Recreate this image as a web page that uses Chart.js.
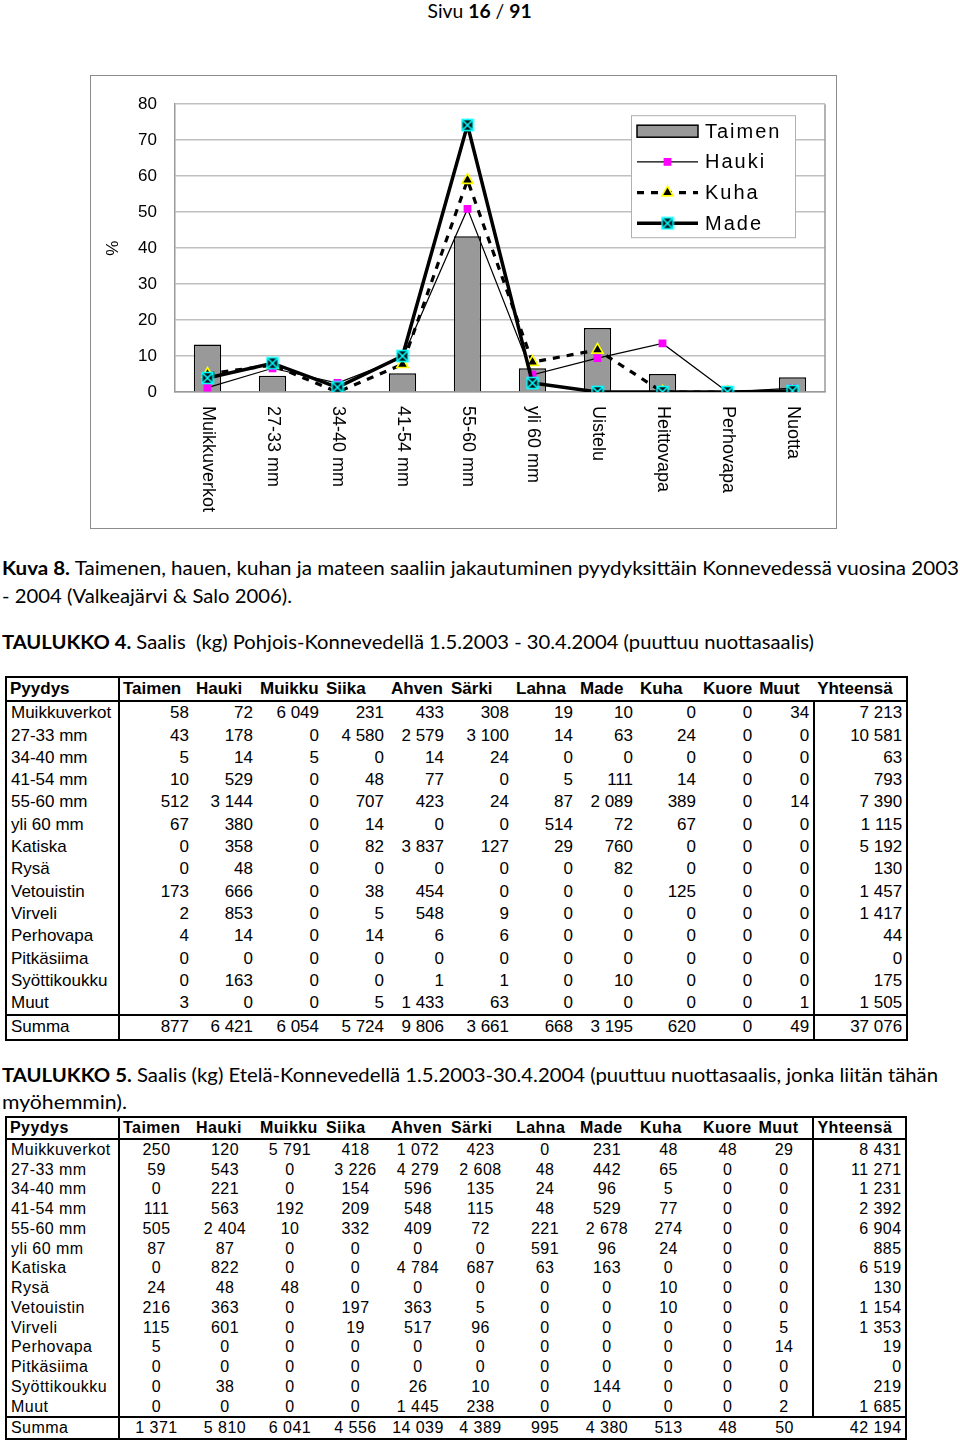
<!DOCTYPE html>
<html>
<head>
<meta charset="utf-8">
<script src="https://cdn.jsdelivr.net/npm/chart.js@4.4.1/dist/chart.umd.min.js"></script>
<style>
  html, body { margin: 0; padding: 0; background: #fff; }
  #page { position: relative; width: 960px; height: 1440px; overflow: hidden; }
  .t { position: absolute; left: 2px; font-family: Lato, "Open Sans", sans-serif; font-size: 19.5px;
       line-height: 1; white-space: nowrap; color: #000; transform-origin: left top; }
  #frame { position: absolute; left: 90px; top: 75px; width: 747px; height: 454px;
           box-sizing: border-box; border: 1px solid #8c8c8c; }
  #chart { display: block; }
  table { position: absolute; left: 5px; border-collapse: collapse; table-layout: fixed;
          font-family: "Liberation Sans", Arial, sans-serif; color: #000; }
  td { padding: 0 4px; white-space: nowrap; overflow: hidden; }
  #tab4 { top: 676px; font-size: 17px; border: 2px solid #000; }
  #tab4 td { height: 22.3px; line-height: 22.3px; text-align: right; }
  #tab5 { top: 1116px; font-size: 16px; letter-spacing: 0.45px; border: 2px solid #000; }
  #tab5 td { height: 19.75px; line-height: 19.75px; text-align: center; }
  td.name { text-align: left !important; }
  tr.head td { font-weight: bold; text-align: left !important; padding-left: 3px; }
  tr.head { border-bottom: 2px solid #000; }
  tr.sum { border-top: 2px solid #000; }
  td.pcol { border-right: 2px solid #000; }
  td.ycol { text-align: right !important; }
</style>
</head>
<body>
<div id="page">
  <div class="t" style="left:0;top:1px;width:960px;text-align:center;"><span data-w="104" style="display:inline-block;transform-origin:center top;">Sivu <b>16</b> / <b>91</b></span></div>

  <div id="frame"><canvas id="chart" width="745" height="452"></canvas></div>

  <div class="t" data-w="957" style="top:558px;"><b>Kuva 8.</b> Taimenen, hauen, kuhan ja mateen saaliin jakautuminen pyydyksittäin Konnevedessä vuosina 2003</div>
  <div class="t" data-w="290" style="top:586px;">- 2004 (Valkeajärvi &amp; Salo 2006).</div>
  <div class="t" data-w="812" style="top:632px;"><b>TAULUKKO 4.</b> Saalis&nbsp; (kg) Pohjois-Konnevedellä 1.5.2003 - 30.4.2004 (puuttuu nuottasaalis)</div>

  <table id="tab4"></table>

  <div class="t" data-w="936" style="top:1065px;"><b>TAULUKKO 5.</b> Saalis (kg) Etelä-Konnevedellä 1.5.2003-30.4.2004 (puuttuu nuottasaalis, jonka liitän tähän</div>
  <div class="t" data-w="125" style="top:1092px;">myöhemmin).</div>

  <table id="tab5"></table>
</div>

<script>
// ---------------------------------------------------------------------------
//  Chart data (percent of catch by gear)
// ---------------------------------------------------------------------------
const categories = ['Muikkuverkot', '27-33 mm', '34-40 mm', '41-54 mm', '55-60 mm',
                    'yli 60 mm', 'Uistelu', 'Heittovapa', 'Perhovapa', 'Nuotta'];
const taimen = [13.2, 4.5, 0.3, 5.2, 43.3, 6.6, 17.8, 5.0, 0.3, 4.1];
const hauki  = [1.2, 6.6, 2.5, 9.5, 50.9, 4.8, 9.4, 13.5, 0, 1.1];
const kuha   = [5.0, 7.5, 0, 7.7, 58.9, 8.3, 11.7, 0, 0, 0];
const made   = [3.9, 8.0, 1.3, 10.0, 74.2, 2.5, 0, 0, 0, 0.3];
const yTicks = [0, 10, 20, 30, 40, 50, 60, 70, 80];

// ---------------------------------------------------------------------------
//  Table data
// ---------------------------------------------------------------------------
const tableHeader = ['Pyydys', 'Taimen', 'Hauki', 'Muikku', 'Siika', 'Ahven', 'Särki',
                     'Lahna', 'Made', 'Kuha', 'Kuore', 'Muut', 'Yhteensä'];
const gears = ['Muikkuverkot', '27-33 mm', '34-40 mm', '41-54 mm', '55-60 mm', 'yli 60 mm',
               'Katiska', 'Rysä', 'Vetouistin', 'Virveli', 'Perhovapa', 'Pitkäsiima',
               'Syöttikoukku', 'Muut', 'Summa'];
const north = [
  ['58', '72', '6 049', '231', '433', '308', '19', '10', '0', '0', '34', '7 213'],
  ['43', '178', '0', '4 580', '2 579', '3 100', '14', '63', '24', '0', '0', '10 581'],
  ['5', '14', '5', '0', '14', '24', '0', '0', '0', '0', '0', '63'],
  ['10', '529', '0', '48', '77', '0', '5', '111', '14', '0', '0', '793'],
  ['512', '3 144', '0', '707', '423', '24', '87', '2 089', '389', '0', '14', '7 390'],
  ['67', '380', '0', '14', '0', '0', '514', '72', '67', '0', '0', '1 115'],
  ['0', '358', '0', '82', '3 837', '127', '29', '760', '0', '0', '0', '5 192'],
  ['0', '48', '0', '0', '0', '0', '0', '82', '0', '0', '0', '130'],
  ['173', '666', '0', '38', '454', '0', '0', '0', '125', '0', '0', '1 457'],
  ['2', '853', '0', '5', '548', '9', '0', '0', '0', '0', '0', '1 417'],
  ['4', '14', '0', '14', '6', '6', '0', '0', '0', '0', '0', '44'],
  ['0', '0', '0', '0', '0', '0', '0', '0', '0', '0', '0', '0'],
  ['0', '163', '0', '0', '1', '1', '0', '10', '0', '0', '0', '175'],
  ['3', '0', '0', '5', '1 433', '63', '0', '0', '0', '0', '1', '1 505'],
  ['877', '6 421', '6 054', '5 724', '9 806', '3 661', '668', '3 195', '620', '0', '49', '37 076']
];
const south = [
  ['250', '120', '5 791', '418', '1 072', '423', '0', '231', '48', '48', '29', '8 431'],
  ['59', '543', '0', '3 226', '4 279', '2 608', '48', '442', '65', '0', '0', '11 271'],
  ['0', '221', '0', '154', '596', '135', '24', '96', '5', '0', '0', '1 231'],
  ['111', '563', '192', '209', '548', '115', '48', '529', '77', '0', '0', '2 392'],
  ['505', '2 404', '10', '332', '409', '72', '221', '2 678', '274', '0', '0', '6 904'],
  ['87', '87', '0', '0', '0', '0', '591', '96', '24', '0', '0', '885'],
  ['0', '822', '0', '0', '4 784', '687', '63', '163', '0', '0', '0', '6 519'],
  ['24', '48', '48', '0', '0', '0', '0', '0', '10', '0', '0', '130'],
  ['216', '363', '0', '197', '363', '5', '0', '0', '10', '0', '0', '1 154'],
  ['115', '601', '0', '19', '517', '96', '0', '0', '0', '0', '5', '1 353'],
  ['5', '0', '0', '0', '0', '0', '0', '0', '0', '0', '14', '19'],
  ['0', '0', '0', '0', '0', '0', '0', '0', '0', '0', '0', '0'],
  ['0', '38', '0', '0', '26', '10', '0', '144', '0', '0', '0', '219'],
  ['0', '0', '0', '0', '1 445', '238', '0', '0', '0', '0', '2', '1 685'],
  ['1 371', '5 810', '6 041', '4 556', '14 039', '4 389', '995', '4 380', '513', '48', '50', '42 194']
];
const colWidths = [113, 74, 64, 66, 65, 60, 65, 64, 60, 63, 55, 58, 93];

// Build a table; yDivider says in which rows the line before Yhteensä is drawn
const buildTable = (id, rows, yDivider) => {
  const table = document.getElementById(id);
  const cg = document.createElement('colgroup');
  colWidths.forEach(w => { const c = document.createElement('col'); c.style.width = w + 'px'; cg.appendChild(c); });
  table.appendChild(cg);
  const addRow = (cells, cls, rowIdx) => {
    const tr = document.createElement('tr');
    if (cls) tr.className = cls;
    cells.forEach((txt, i) => {
      const td = document.createElement('td');
      td.textContent = txt;
      if (i === 0) td.className = 'name pcol';
      if (i === cells.length - 1) {
        td.className = 'ycol';
        if (yDivider(rowIdx)) td.style.borderLeft = '2px solid #000';
      }
      tr.appendChild(td);
    });
    table.appendChild(tr);
  };
  addRow(tableHeader, 'head', -1);
  rows.forEach((r, i) => addRow([gears[i], ...r], i === rows.length - 1 ? 'sum' : '', i));
};
buildTable('tab4', north, i => i >= 0);
buildTable('tab5', south, i => i < south.length - 1);

// Squeeze caption lines to the widths they have on the page
document.querySelectorAll('[data-w]').forEach(el => {
  const w = el.getBoundingClientRect().width;
  el.style.transform = `scaleX(${el.dataset.w / w})`;
});

// ---------------------------------------------------------------------------
//  Chart
// ---------------------------------------------------------------------------
const FONT = '"Liberation Sans", Arial, sans-serif';

// Excel style "X in a box" marker for Made
const madeMarker = document.createElement('canvas');
madeMarker.width = 14; madeMarker.height = 14;
(() => {
  const m = madeMarker.getContext('2d');
  m.fillStyle = '#001018';
  m.fillRect(1, 1, 12, 12);
  m.strokeStyle = '#00ffff';
  m.lineWidth = 1.6;
  m.strokeRect(1.5, 1.5, 11, 11);
  m.beginPath();
  m.moveTo(2, 2); m.lineTo(12, 12);
  m.moveTo(12, 2); m.lineTo(2, 12);
  m.stroke();
})();

// Category labels rotated clockwise, reading downwards from the axis
const verticalLabels = {
  id: 'verticalLabels',
  afterDraw(chart) {
    const { ctx, chartArea, scales: { x } } = chart;
    ctx.save();
    ctx.font = `18px ${FONT}`;
    ctx.fillStyle = '#000';
    ctx.textAlign = 'left';
    ctx.textBaseline = 'middle';
    chart.data.labels.forEach((lbl, i) => {
      ctx.save();
      ctx.translate(x.getPixelForValue(i), chartArea.bottom + 14);
      ctx.rotate(Math.PI / 2);
      ctx.fillText(lbl, 0, 0);
      ctx.restore();
    });
    ctx.restore();
  }
};

// Right edge of the plot frame
const plotFrame = {
  id: 'plotFrame',
  beforeDatasetsDraw(chart) {
    const { ctx, chartArea: a } = chart;
    ctx.save();
    ctx.strokeStyle = '#9a9a9a';
    ctx.lineWidth = 1.5;
    ctx.beginPath();
    ctx.moveTo(a.right, a.top);
    ctx.lineTo(a.right, a.bottom);
    ctx.stroke();
    ctx.restore();
  }
};

// Boxed legend inside the plot, top right
const boxLegend = {
  id: 'boxLegend',
  afterDatasetsDraw(chart) {
    const { ctx, chartArea: a } = chart;
    const bx = a.right - 194, by = a.top + 11, bw = 164, bh = 122;
    ctx.save();
    ctx.fillStyle = '#fff';
    ctx.fillRect(bx, by, bw, bh);
    ctx.strokeStyle = '#b0b0b0';
    ctx.lineWidth = 1;
    ctx.strokeRect(bx + 0.5, by + 0.5, bw, bh);
    ctx.font = `20px ${FONT}`;
    ctx.letterSpacing = '2px';
    ctx.textBaseline = 'middle';
    const sx0 = bx + 6, sx1 = bx + 67;
    chart.data.datasets.forEach((ds, i) => {
      const cy = by + 16 + i * 30.7;
      if (ds.type === 'bar') {
        ctx.fillStyle = ds.backgroundColor;
        ctx.fillRect(sx0, cy - 6, sx1 - sx0, 12);
        ctx.strokeStyle = ds.borderColor;
        ctx.lineWidth = 1.5;
        ctx.strokeRect(sx0, cy - 6, sx1 - sx0, 12);
      } else {
        ctx.save();
        ctx.strokeStyle = ds.borderColor;
        ctx.lineWidth = ds.borderWidth;
        ctx.setLineDash(ds.borderDash || []);
        ctx.beginPath();
        ctx.moveTo(sx0, cy);
        ctx.lineTo(sx1, cy);
        ctx.stroke();
        ctx.restore();

        // marker in the dataset's own colours
        ctx.save();
        ctx.fillStyle = ds.pointBackgroundColor;
        ctx.strokeStyle = ds.pointBorderColor;
        ctx.lineWidth = ds.pointBorderWidth || 0;
        Chart.helpers.drawPoint(ctx, {
          pointStyle: ds.pointStyle,
          radius: ds.pointRadius,
          borderWidth: ds.pointBorderWidth || 0,
          rotation: 0
        }, (sx0 + sx1) / 2, cy);
        ctx.restore();
      }
      ctx.fillStyle = '#000';
      ctx.fillText(ds.label, bx + 74, cy + 1);
    });
    ctx.restore();
  }
};

const datasets = [
  {
    type: 'bar', label: 'Taimen', data: taimen,
    backgroundColor: '#999999', borderColor: '#000000', borderWidth: 1.5,
    barPercentage: 0.42, categoryPercentage: 1, order: 4
  },
  {
    type: 'line', label: 'Hauki', data: hauki,
    borderColor: '#000000', borderWidth: 1.2, tension: 0,
    pointStyle: 'rect', pointRadius: 5.5, pointBorderWidth: 0,
    pointBackgroundColor: '#ff00ff', pointBorderColor: '#ff00ff', order: 3
  },
  {
    type: 'line', label: 'Kuha', data: kuha,
    borderColor: '#000000', borderWidth: 3.2, borderDash: [7, 7], tension: 0,
    pointStyle: 'triangle', pointRadius: 6.5, pointBorderWidth: 1.6,
    pointBackgroundColor: '#000000', pointBorderColor: '#ffff00', order: 2
  },
  {
    type: 'line', label: 'Made', data: made,
    borderColor: '#000000', borderWidth: 3.5, tension: 0,
    pointStyle: madeMarker, pointRadius: 7, pointBorderWidth: 0,
    pointBackgroundColor: '#000000', pointBorderColor: '#00ffff', order: 1
  }
];

const ctx = document.getElementById('chart').getContext('2d');
new Chart(ctx, {
  type: 'bar',
  data: { labels: categories, datasets },
  options: {
    responsive: false,
    animation: false,
    layout: { padding: { top: 25, right: 11, left: 0, bottom: 0 } },
    plugins: { legend: { display: false }, tooltip: { enabled: false } },
    scales: {
      x: {
        grid: { display: false },
        ticks: { display: false },
        border: { color: '#9a9a9a', width: 1.5 },
        afterFit: (s) => { s.height = 136; }
      },
      y: {
        min: 0, max: 80,
        afterBuildTicks: (s) => { s.ticks = yTicks.map(v => ({ value: v })); },
        ticks: { padding: 18, color: '#000', font: { family: FONT, size: 17 } },
        grid: { color: '#c0c0c0', lineWidth: 1.5, drawTicks: false },
        border: { color: '#9a9a9a', width: 1.5 },
        title: { display: true, text: '%', color: '#000', font: { family: FONT, size: 17 }, padding: { top: 12, bottom: 0 } },
        afterFit: (s) => { s.width = 84; }
      }
    }
  },
  plugins: [plotFrame, boxLegend, verticalLabels]
});
</script>
</body>
</html>
